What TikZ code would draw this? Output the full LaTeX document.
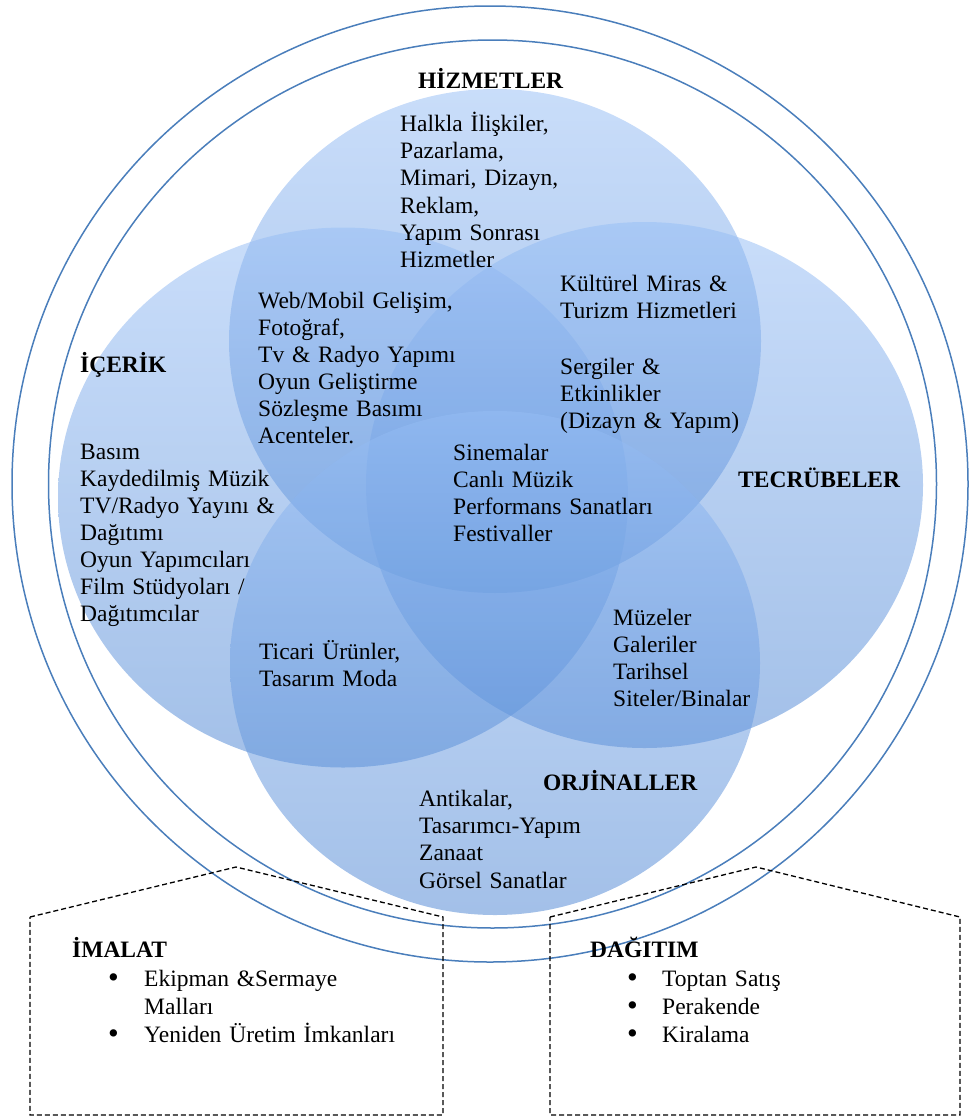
\documentclass[tikz,border=0pt]{standalone}
\usepackage{fontspec}
\setmainfont{Liberation Serif}
\definecolor{ringblue}{RGB}{74,126,187}
\definecolor{vtop}{RGB}{151,190,245}
\definecolor{vbot}{RGB}{78,134,211}
\newcommand{\bigdot}{\raisebox{-0.4pt}{\scalebox{1.3}{\textbullet}}}
\begin{document}
\begin{tikzpicture}[x=1pt,y=-1pt,
  ring/.style={draw=ringblue, line width=1.5pt},
  petal/.style={top color=vtop, bottom color=vbot, fill opacity=0.52, draw=none},
  txt/.style={font=\fontsize{23.5}{27.1}\selectfont, text width=360pt, align=left,
              anchor=base west, inner sep=0pt},
  lst/.style={txt, font=\fontsize{23.5}{28}\selectfont},
  head/.style={font=\fontsize{23.5}{27.1}\selectfont\bfseries, anchor=base west, inner sep=0pt},
  house/.style={draw=black, line width=1.3pt, dash pattern=on 5pt off 3pt}
]
\useasboundingbox (0,0) rectangle (971,1119);

% two surrounding rings
\draw[ring] (490,484) circle [radius=478];
\draw[ring] (492.5,484) circle [radius=444];

% the four overlapping sets
\shade[petal] (495,341) ellipse [x radius=266, y radius=252];   % services
\shade[petal] (343,497.5) ellipse [x radius=285, y radius=270]; % content
\shade[petal] (644.5,485) ellipse [x radius=278.5, y radius=263]; % experiences
\shade[petal] (495,663) ellipse [x radius=265, y radius=252];   % originals

% set titles
\node[head] (hizT) at (418,88.3) {HİZMETLER};
\node[head] (iceT) at (80,372.7) {İÇERİK};
\node[head] (tecT) at (738,487.7) {TECRÜBELER};
\node[head] (orjT) at (543,790) {ORJİNALLER};

% set contents
\node[txt] (hiz) at (400,131.7) {Halkla İlişkiler,\\Pazarlama,\\Mimari, Dizayn,\\Reklam,\\Yapım Sonrası\\Hizmetler};
\node[txt] (web) at (258,308.3) {Web/Mobil Gelişim,\\Fotoğraf,\\Tv \& Radyo Yapımı\\Oyun Geliştirme\\Sözleşme Basımı\\Acenteler.};
\node[txt] (kul) at (560,291.7) {Kültürel Miras \&\\Turizm Hizmetleri};
\node[txt] (ser) at (560,374) {Sergiler \&\\Etkinlikler\\(Dizayn \& Yapım)};
\node[txt] (bas) at (80,459.3) {Basım\\Kaydedilmiş Müzik\\TV/Radyo Yayını \&\\Dağıtımı\\Oyun Yapımcıları\\Film Stüdyoları /\\Dağıtımcılar};
\node[txt] (sin) at (453,460) {Sinemalar\\Canlı Müzik\\Performans Sanatları\\Festivaller};
\node[txt] (tic) at (259,659.3) {Ticari Ürünler,\\Tasarım Moda};
\node[txt] (muz) at (613,625) {Müzeler\\Galeriler\\Tarihsel\\Siteler/Binalar};
\node[txt] (ant) at (419,806.7) {Antikalar,\\Tasarımcı-Yapım\\Zanaat\\Görsel Sanatlar};

% supporting activities
\draw[house] (30,917) -- (236,867) -- (443,917) -- (443,1115) -- (30,1115) -- cycle;
\draw[house] (550,917) -- (756,867) -- (960,917) -- (960,1115) -- (550,1115) -- cycle;

\node[head] (imaT) at (72,957.3) {İMALAT};
\node[lst] (ima) at (108,986.7) {\makebox[36pt][l]{\bigdot}Ekipman \&Sermaye\\\hspace*{36pt}Malları\\\makebox[36pt][l]{\bigdot}Yeniden Üretim İmkanları};
\node[head] (dagT) at (590,957.3) {DAĞITIM};
\node[lst] (dag) at (627,986.7) {\makebox[35pt][l]{\bigdot}Toptan Satış\\\makebox[35pt][l]{\bigdot}Perakende\\\makebox[35pt][l]{\bigdot}Kiralama};
\end{tikzpicture}
\end{document}
